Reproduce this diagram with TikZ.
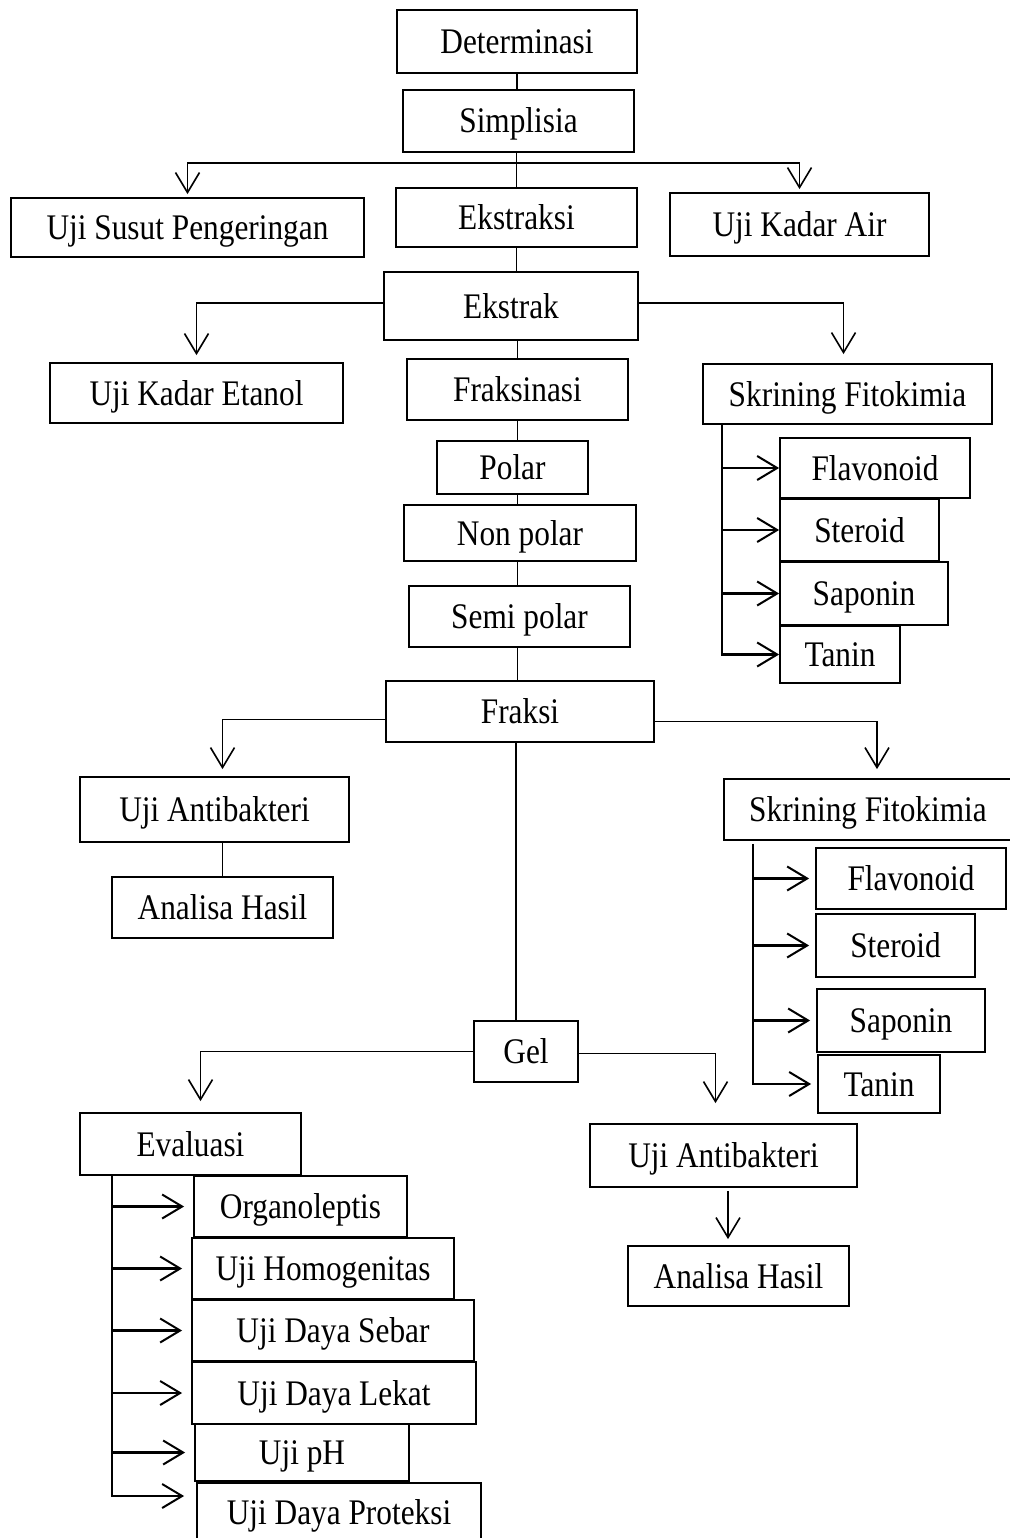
\documentclass[tikz,border=0pt]{standalone}
\usepackage{fontspec}
\setmainfont{Liberation Serif}[FakeStretch=0.87]
\usetikzlibrary{arrows.meta}

\begin{document}
\begin{tikzpicture}[
    x=1pt, y=-1pt,
    box/.style 2 args={rectangle, draw=black, line width=1.8pt, minimum width=#1pt, minimum height=#2pt, inner sep=0pt, text height=28pt, text depth=4pt, font=\fontsize{36}{40}\selectfont},
    link/.style={line width=1.4pt, black},
    arrow/.style={-{Straight Barb[length=20pt, width=24pt, line width=1.6pt]}, line width=1.5pt, black},
    subarrow/.style={-{Straight Barb[length=20pt, width=24pt, line width=2pt]}, line width=2.2pt, black}
]
\useasboundingbox (0,0) rectangle (1009,1538);

% === Top: Determinasi to Ekstrak ===
\node[box={240}{63}] (det) at (517,41.5) {Determinasi};
\node[box={231}{62}] (simp) at (518.5,121) {Simplisia};
\node[box={353}{59}] (usp) at (187.5,227.5) {Uji Susut Pengeringan};
\node[box={241}{59}] (ekss) at (516.5,217.5) {Ekstraksi};
\node[box={259}{63}] (uka) at (799.5,224.5) {Uji Kadar Air};
\node[box={254}{68}] (ekt) at (511,306) {Ekstrak};

% === Middle: Fraksinasi column ===
\node[box={293}{60}] (uke) at (196.5,393) {Uji Kadar Etanol};
\node[box={221}{61}] (frk) at (517.5,389.5) {Fraksinasi};
\node[box={289}{60}] (skra) at (847.5,394) {Skrining Fitokimia};
\node[box={151}{53}] (pol) at (512.5,467.5) {Polar};
\node[box={232}{56}] (npol) at (520,533) {Non polar};
\node[box={221}{61}] (spol) at (519.5,616.5) {Semi polar};
\node[box={268}{61}] (fks) at (520,711.5) {Fraksi};

% Skrining Fitokimia (ekstrak) children
\node[box={190}{60}] (flva) at (875,468) {Flavonoid};
\node[box={159}{62}] (stra) at (859.5,530) {Steroid};
\node[box={168}{63}] (sapa) at (864,593.5) {Saponin};
\node[box={120}{57}] (tana) at (840,654.5) {Tanin};

% === Fraksi branches ===
\node[box={269}{65}] (uaba) at (214.5,809.5) {Uji Antibakteri};
\node[box={221}{61}] (anaa) at (222.5,907.5) {Analisa Hasil};
\node[box={288}{61}] (skrb) at (868,809.5) {Skrining Fitokimia};
\node[box={190}{61}] (flvb) at (911,878.5) {Flavonoid};
\node[box={159}{63}] (strb) at (895.5,945.5) {Steroid};
\node[box={168}{63}] (sapb) at (901,1020.5) {Saponin};
\node[box={122}{58}] (tanb) at (879,1084) {Tanin};

% === Bottom: Gel ===
\node[box={104}{61}] (gel) at (526,1051.5) {Gel};
\node[box={221}{62}] (eval) at (190.5,1144) {Evaluasi};
\node[box={213}{61}] (org) at (300.5,1206.5) {Organoleptis};
\node[box={262}{61}] (hom) at (323,1268.5) {Uji Homogenitas};
\node[box={282}{61}] (seb) at (333,1330.5) {Uji Daya Sebar};
\node[box={284}{62}] (lek) at (334,1393) {Uji Daya Lekat};
\node[box={214}{57}] (ph) at (302,1452.5) {Uji pH};
\node[box={284}{58}] (prot) at (339,1512) {Uji Daya Proteksi};
\node[box={267}{63}] (uabb) at (723.5,1155.5) {Uji Antibakteri};
\node[box={221}{60}] (anab) at (738.5,1276) {Analisa Hasil};

% === Connectors: top ===
\draw[link] (det.south) -- (det.south |- simp.north);
\draw[link] (ekss.north |- simp.south) -- (ekss.north);
\coordinate (jsimp) at (516.5,163);
\draw[arrow, shorten >=3pt] (jsimp) -| (usp.north);
\draw[arrow, shorten >=3pt] (jsimp) -| (uka.north);
\draw[link] (ekss.south) -- (ekss.south |- ekt.north);
\draw[arrow, shorten >=7pt] ([yshift=3pt]ekt.west) -| (uke.north);
\draw[arrow, shorten >=9pt] ([yshift=3pt]ekt.east) -| ([xshift=-4pt]skra.north);

% === Connectors: Fraksinasi column ===
\draw[link] (frk.north |- ekt.south) -- (frk.north);
\draw[link] (frk.south) -- (frk.south |- pol.north);
\draw[link] (frk.south |- pol.south) -- (frk.south |- npol.north);
\draw[link] (frk.south |- npol.south) -- (frk.south |- spol.north);
\draw[link] (frk.south |- spol.south) -- (frk.south |- fks.north);

% Skrining children (ekstrak)
\coordinate (sa) at ([xshift=20pt]skra.south west);
\draw[subarrow] (sa) |- (tana.west);
\draw[subarrow] (sa |- flva.west) -- (flva.west);
\draw[subarrow] (sa |- stra.west) -- (stra.west);
\draw[subarrow] (sa |- sapa.west) -- (sapa.west);

% === Connectors: Fraksi ===
\draw[arrow, shorten >=7pt] ([yshift=-8pt]fks.west) -| (anaa.north |- uaba.north);
\draw[link] (anaa.north |- uaba.south) -- (anaa.north);
\draw[arrow, shorten >=9pt] ([yshift=-10pt]fks.east) -| ([xshift=9pt]skrb.north);

% Skrining children (fraksi)
\coordinate (sb) at ([xshift=30pt, yshift=-3pt]skrb.south west);
\draw[subarrow, shorten >=6pt] (sb) |- (tanb.west);
\draw[subarrow, shorten >=6pt] (sb |- flvb.west) -- (flvb.west);
\draw[subarrow, shorten >=6pt] (sb |- strb.west) -- (strb.west);
\draw[subarrow, shorten >=6pt] (sb |- sapb.west) -- (sapb.west);

% === Connectors: Gel ===
\draw[link] (fks.south -| 516,0) -- (gel.north -| 516,0);
\draw[arrow, shorten >=11pt] (gel.west) -| ([xshift=10pt]eval.north);
\draw[arrow, shorten >=20pt] ([yshift=-2pt]gel.east) -| ([xshift=-8pt]uabb.north);
\draw[arrow, shorten <=3pt, shorten >=6pt] ([xshift=4.5pt]uabb.south) -- ([xshift=4.5pt]uabb.south |- anab.north);

% Evaluasi children
\coordinate (ev) at ([xshift=33pt]eval.south west);
\draw[subarrow, shorten >=12pt] (ev) |- ([yshift=16pt]prot.west);
\draw[subarrow, shorten >=9pt] (ev |- org.west) -- (org.west);
\draw[subarrow, shorten >=9pt] (ev |- hom.west) -- (hom.west);
\draw[subarrow, shorten >=9pt] (ev |- seb.west) -- (seb.west);
\draw[subarrow, shorten >=9pt] (ev |- lek.west) -- (lek.west);
\draw[subarrow, shorten >=9pt] (ev |- ph.west) -- (ph.west);

\end{tikzpicture}
\end{document}
